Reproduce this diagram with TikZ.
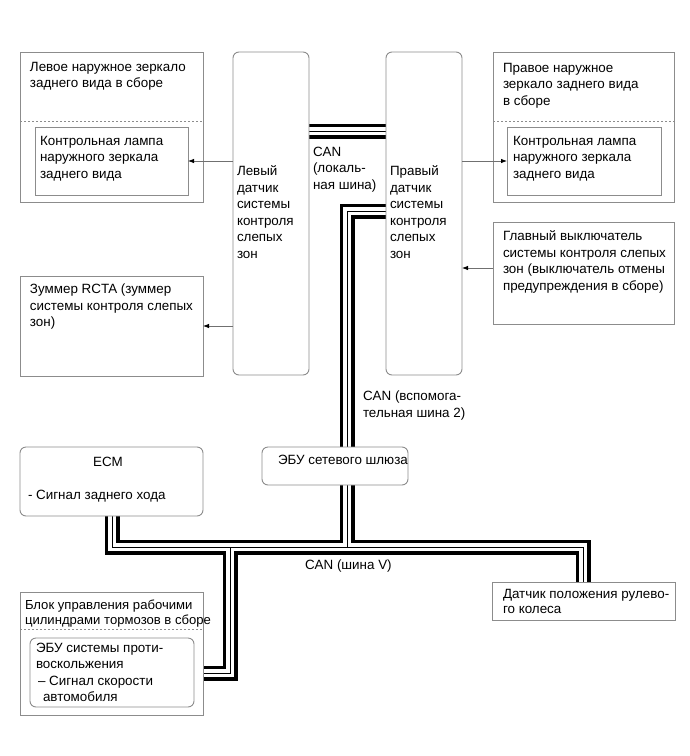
\documentclass[tikz,border=0pt]{standalone}
\usepackage{fontspec}
\setmainfont{Liberation Sans}
\usetikzlibrary{arrows.meta}
\definecolor{boxgray}{HTML}{8C8C8C}
\definecolor{arrgray}{HTML}{707070}
\newcommand\canbusnet[1]{%
  \draw[#1] (l1) -- (l2);
  \draw[#1] (g1) -- (g2) -- (g3);
  \draw[#1] (m1) -- (m2) -- (m3) -- (m4);
  \draw[#1] (b1) -- (b2) -- (b3);
}
\begin{document}
\begin{tikzpicture}[x=1pt,y=-1pt,
  box/.style={draw=boxgray, line width=0.9pt, fill=white, inner sep=0pt, outer sep=0pt},
  rbox/.style={box, rounded corners=6pt},
  txt/.style={anchor=north west, inner sep=0pt, outer sep=0pt, align=left, font=\fontsize{13.4}{16.5}\selectfont},
  txtb/.style={txt, font=\fontsize{13.4}{15}\selectfont},
  txtc/.style={txt, font=\fontsize{13.1}{15}\selectfont},
  sep/.style={draw=boxgray, line width=0.8pt, dash pattern=on 2pt off 2pt},
  arr/.style={draw=arrgray, line width=0.8pt, -{Latex[length=6pt,width=4.5pt,black]}},
  busA/.style={line width=15pt, black, line join=miter},
  busB/.style={line width=7.5pt, white, line join=miter},
  busC/.style={line width=1pt, black, line join=miter}]
\useasboundingbox (0,0) rectangle (690,756);
\fill[white] (0,0) rectangle (690,756);

% bus coordinates
\coordinate (l1) at (309,131);
\coordinate (l2) at (386,131);
\coordinate (g1) at (386,211);
\coordinate (g2) at (347,211);
\coordinate (g3) at (347,547);
\coordinate (m1) at (112,516);
\coordinate (m2) at (112,547);
\coordinate (m3) at (583,547);
\coordinate (m4) at (583,582);
\coordinate (b1) at (230,547);
\coordinate (b2) at (230,673);
\coordinate (b3) at (194,673);

\canbusnet{busA}
\canbusnet{busB}
\canbusnet{busC}

% boxes
\node[box, minimum width=183pt, minimum height=150pt] (mirL) at (111.5,127) {};
\node[box, minimum width=153pt, minimum height=68pt] (lampL) at (111.5,161) {};
\node[rbox, minimum width=76pt, minimum height=323pt] (sensL) at (271,213.5) {};
\node[rbox, minimum width=76pt, minimum height=323pt] (sensR) at (424,213.5) {};
\node[box, minimum width=181pt, minimum height=150pt] (mirR) at (583.5,127) {};
\node[box, minimum width=154pt, minimum height=68pt] (lampR) at (584,161) {};
\node[box, minimum width=181pt, minimum height=102pt] (switch) at (583.5,273) {};
\node[box, minimum width=183pt, minimum height=100pt] (buzz) at (111.5,326) {};
\node[rbox, minimum width=183pt, minimum height=69pt] (ecm) at (111.5,481.5) {};
\node[rbox, minimum width=146pt, minimum height=38pt] (gw) at (335,466) {};
\node[box, minimum width=183pt, minimum height=123pt] (brake) at (111.5,653.5) {};
\node[rbox, minimum width=164pt, minimum height=69pt] (esc) at (112,672.5) {};
\node[box, minimum width=183pt, minimum height=38pt] (steer) at (583.5,601) {};

% dashed separators
\draw[sep] (mirL.west |- 0,121) -- (mirL.east |- 0,121);
\draw[sep] (mirR.west |- 0,121) -- (mirR.east |- 0,121);
\draw[sep] (brake.west |- 0,629) -- (brake.east |- 0,629);

% texts
\node[txt] (tmirL) at (30,62) {Левое наружное зеркало\\заднего вида в сборе};
\node[txt] (tlampL) at (40,136) {Контрольная лампа\\наружного зеркала\\заднего вида};
\node[txt] (tsensL) at (237,166) {Левый\\датчик\\системы\\контроля\\слепых\\зон};
\node[txt] (tsensR) at (390,166) {Правый\\датчик\\системы\\контроля\\слепых\\зон};
\node[txt] (tmirR) at (503,63) {Правое наружное\\зеркало заднего вида\\в сборе};
\node[txt] (tlampR) at (513,136) {Контрольная лампа\\наружного зеркала\\заднего вида};
\node[txt] (tswitch) at (503,231) {Главный выключатель\\системы контроля слепых\\зон (выключатель отмены\\предупреждения в сборе)};
\node[txt] (tbuzz) at (30,284) {Зуммер RCTA (зуммер\\системы контроля слепых\\зон)};
\node[txt] (tcanl) at (313,147) {CAN\\(локаль-\\ная шина)};
\node[txt] (tcan2) at (363,391) {CAN (вспомога-\\тельная шина 2)};
\node[txt] (tgw) at (278,455) {ЭБУ сетевого шлюза};
\node[txt, anchor=north] (tecm) at (108,457) {ECM};
\node[txt] (tecm2) at (28,490) {- Сигнал заднего хода};
\node[txt] (tcanv) at (305,560) {CAN (шина V)};
\node[txtc] (tbrake) at (25,600) {Блок управления рабочими\\цилиндрами тормозов в сборе};
\node[txt] (tesc) at (36,643) {ЭБУ системы проти-\\воскольжения\\\hspace*{2pt}– Сигнал скорости\\\hspace*{7pt}автомобиля};
\node[txtb] (tsteer) at (503,589) {Датчик положения рулево-\\го колеса};

% arrows
\coordinate (swp) at (493,268);
\draw[arr] (sensL.west |- lampL.east) -- (lampL.east);
\draw[arr] (sensR.east |- lampR.west) -- (lampR.west);
\draw[arr] (swp) -- (sensR.east |- swp);
\draw[arr] (sensL.west |- buzz.east) -- (buzz.east);
\end{tikzpicture}
\end{document}
